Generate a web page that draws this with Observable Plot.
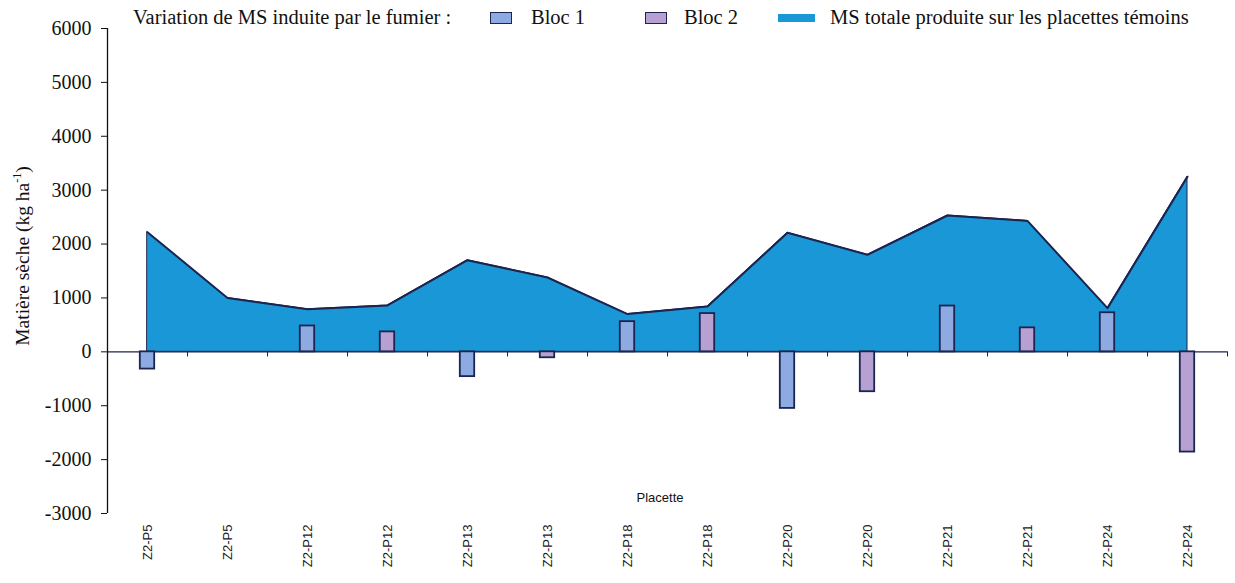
<!DOCTYPE html>
<html><head><meta charset="utf-8">
<script src="https://cdn.jsdelivr.net/npm/d3@7"></script>
<script src="https://cdn.jsdelivr.net/npm/@observablehq/plot@0.6"></script>
<style>
body{margin:0;background:#fff;}
#wrap{position:relative;width:1235px;height:583px;overflow:hidden;}
.lg{position:absolute;font:20.5px "Liberation Serif",serif;color:#111;white-space:nowrap;line-height:22px;top:6px;}
.sw{position:absolute;box-sizing:border-box;}
#ylab{position:absolute;left:23px;top:256px;transform:translate(-50%,-50%) rotate(-90deg);font:19.5px "Liberation Serif",serif;color:#111;white-space:nowrap;}
#ylab sup{font-size:12px;vertical-align:8px;line-height:0;}
#xlab{position:absolute;left:660px;top:497px;transform:translate(-50%,-50%);font:13px "Liberation Sans Narrow","Liberation Sans",sans-serif;color:#111;}
</style></head><body>
<div id="wrap"></div>
<script>
const placettes = ["Z2-P5","Z2-P5","Z2-P12","Z2-P12","Z2-P13","Z2-P13","Z2-P18","Z2-P18","Z2-P20","Z2-P20","Z2-P21","Z2-P21","Z2-P24","Z2-P24"];
const blocs = ["Bloc 1","Bloc 2","Bloc 1","Bloc 2","Bloc 1","Bloc 2","Bloc 1","Bloc 2","Bloc 1","Bloc 2","Bloc 1","Bloc 2","Bloc 1","Bloc 2"];
const msTotale = [2220,1000,790,860,1700,1380,700,840,2210,1800,2530,2430,810,3250];
const variation = [-320,null,480,370,-460,-110,560,710,-1050,-740,850,445,725,-1860];
const yTicks = [-3000,-2000,-1000,0,1000,2000,3000,4000,5000,6000];

const navy = "#1b2550";
const data = placettes.map((p, i) => ({i, placette: p, bloc: blocs[i], ms: msTotale[i], v: variation[i]}));
const sep = d3.range(14).map(i => i + 0.5);

const chart = Plot.plot({
  width: 1235, height: 583,
  marginLeft: 107, marginRight: 8, marginTop: 28, marginBottom: 70,
  x: {type: "linear", domain: [-0.5, 13.5], axis: null},
  y: {domain: [-3000, 6000], axis: null},
  color: {domain: ["Bloc 1", "Bloc 2"], range: ["#8eaae3", "#b7a0d2"]},
  style: {fontFamily: "'Liberation Serif', serif", background: "white", color: "#111"},
  marks: [
    Plot.areaY(data, {x: "i", y: "ms", fill: "#1a97d7", stroke: navy, strokeWidth: 1}),
    Plot.lineY(data, {x: "i", y: "ms", stroke: navy, strokeWidth: 2}),
    Plot.ruleY([0], {stroke: navy, strokeWidth: 1.3}),
    Plot.ruleX(sep, {x: d => d, y1: 0, y2: -95, stroke: navy, strokeWidth: 1}),
    Plot.rectY(data.filter(d => d.v != null), {
      x1: d => d.i - 0.09, x2: d => d.i + 0.09, y1: 0, y2: "v",
      fill: "bloc", stroke: navy, strokeWidth: 1.8
    }),
    Plot.ruleX([-0.5], {stroke: "#111", strokeWidth: 1.3}),
    Plot.axisY({ticks: yTicks, tickSize: 6, tickPadding: 10, fontSize: 20, fontFamily: "'Liberation Serif', serif",
      tickFormat: d => String(d), stroke: "#111", label: null, className: "yax"}),
    Plot.axisX({ticks: d3.range(14), anchor: "bottom", tickSize: 0, tickPadding: 11, tickRotate: -90,
      tickFormat: i => placettes[i], fontFamily: "'Liberation Sans', sans-serif", fontSize: 13, label: null, fill: "#222"})
  ]
});

const wrap = document.getElementById("wrap");
wrap.appendChild(chart);
// force serif on numeric y tick labels
d3.select(chart).selectAll("text").each(function() {
  if (/^-?\d+$/.test(this.textContent.trim())) {
    this.style.fontFamily = "'Liberation Serif', 'Times New Roman', serif";
    this.style.fontSize = "20px";
    d3.select(this).selectAll("tspan").style("font-family", "'Liberation Serif', serif");
  }
});

function add(html, cls, style) {
  const el = document.createElement("div");
  el.className = cls;
  if (html) el.innerHTML = html;
  Object.assign(el.style, style);
  wrap.appendChild(el);
  return el;
}
add("Variation de MS induite par le fumier :", "lg", {left: "133px"});
add("", "sw", {left: "490px", top: "12px", width: "22px", height: "12px", background: "#8eaae3", border: "1.5px solid " + navy});
add("Bloc 1", "lg", {left: "531px"});
add("", "sw", {left: "645px", top: "12px", width: "22px", height: "12px", background: "#b7a0d2", border: "1.5px solid " + navy});
add("Bloc 2", "lg", {left: "684px"});
add("", "sw", {left: "778px", top: "14px", width: "37px", height: "8px", background: "#1a97d7"});
add("MS totale produite sur les placettes témoins", "lg", {left: "830px"});
add("Matière sèche (kg ha<sup>-1</sup>)", "", {}).id = "ylab";
add("Placette", "", {}).id = "xlab";
</script>
</body></html>
